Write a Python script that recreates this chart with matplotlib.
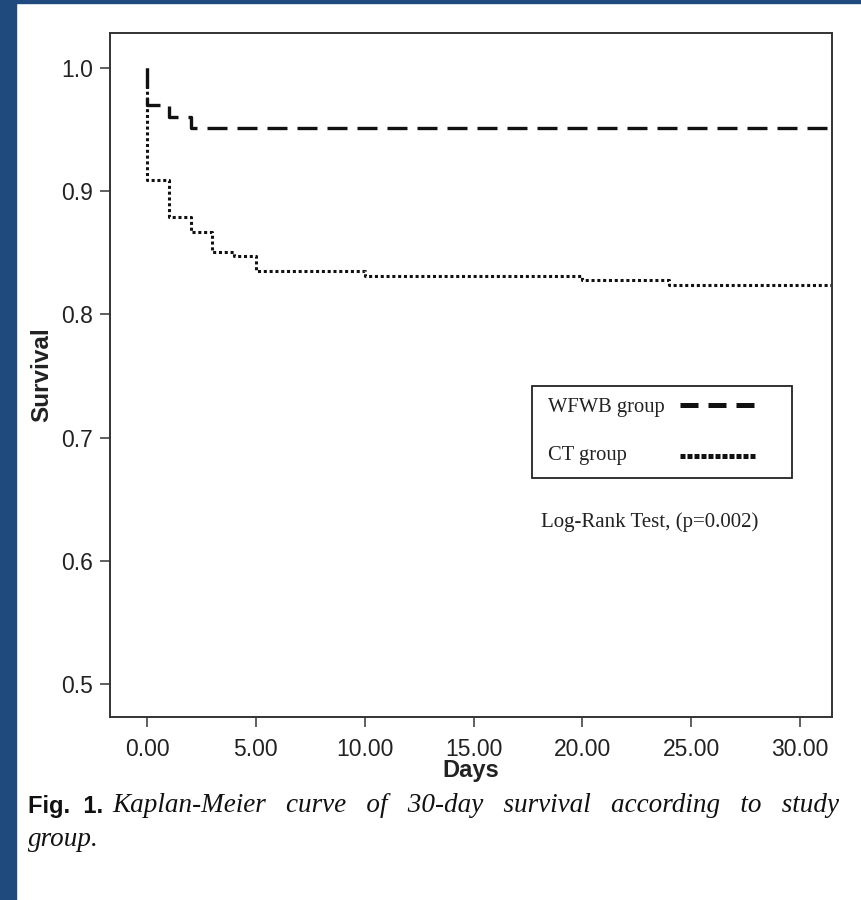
import matplotlib
matplotlib.use("Agg")
import matplotlib.pyplot as plt
from matplotlib.patches import Rectangle

# ---- data ----
wfwb_days = [0, 0, 1, 2, 32]
wfwb_surv = [1.0, 0.970, 0.960, 0.951, 0.951]
ct_days = [0, 0, 1, 2, 3, 4, 5, 10, 20, 24, 32]
ct_surv = [1.0, 0.909, 0.879, 0.867, 0.851, 0.847, 0.835, 0.831, 0.828, 0.824, 0.824]
x_ticks = [0, 5, 10, 15, 20, 25, 30]
x_ticklabels = ["0.00", "5.00", "10.00", "15.00", "20.00", "25.00", "30.00"]
y_ticks = [0.5, 0.6, 0.7, 0.8, 0.9, 1.0]
y_ticklabels = ["0.5", "0.6", "0.7", "0.8", "0.9", "1.0"]
legend_labels = ["WFWB group", "CT group"]

sans = ["Liberation Sans", "DejaVu Sans"]
serif = ["Liberation Serif", "DejaVu Serif"]
ink = "#222222"

fig = plt.figure(figsize=(8.62, 9.0), dpi=100)
fig.patch.set_facecolor("white")
# blue page border
blue = "#1f4a7d"
fig.patches.append(Rectangle((0, 0), 16 / 862, 1, transform=fig.transFigure, color=blue, zorder=0))
fig.patches.append(Rectangle((0, 1 - 3 / 900), 1, 3 / 900, transform=fig.transFigure, color=blue, zorder=0))

ax = fig.add_axes([110 / 862, 1 - 717 / 900, 722 / 862, 684 / 900])
ax.set_xlim(-1.70, 31.47)
ax.set_ylim(0.4732, 1.0284)

wfwb_style = dict(color="#111111", lw=2.4, linestyle=(0, (6, 3)), dash_capstyle="butt")
ct_style = dict(color="#111111", lw=2.2, linestyle=(0, (1.0, 0.9)), dash_capstyle="butt")
ax.step(wfwb_days, wfwb_surv, where="post", **wfwb_style)
ax.step(ct_days, ct_surv, where="post", **ct_style)

for s in ax.spines.values():
    s.set_linewidth(1.4)
    s.set_color("#333333")

ax.set_xticks(x_ticks)
ax.set_xticklabels(x_ticklabels, fontfamily=sans, fontsize=16.5, color=ink)
ax.set_yticks(y_ticks)
ax.set_yticklabels(y_ticklabels, fontfamily=sans, fontsize=16.5, color=ink)
ax.tick_params(axis="both", direction="out", length=7, width=1.2, color="#444444", pad=5)
ax.tick_params(axis="x", pad=8)

ax.set_xlabel("Days", fontfamily=sans, fontweight="bold", fontsize=17, labelpad=-1, color=ink)
ax.set_ylabel("Survival", fontfamily=sans, fontweight="bold", fontsize=17.5, labelpad=6, color=ink)

# legend box (drawn in axes fraction)
ax.add_patch(Rectangle((0.584, 0.349), 0.361, 0.135, transform=ax.transAxes,
                       fill=False, edgecolor=ink, lw=1.3, clip_on=False))
ax.text(0.607, 0.452, legend_labels[0], transform=ax.transAxes, ha="left", va="center",
        fontfamily=serif, fontsize=14.8, color=ink)
ax.text(0.607, 0.382, legend_labels[1], transform=ax.transAxes, ha="left", va="center",
        fontfamily=serif, fontsize=14.8, color=ink)
ax.plot([0.789, 0.895], [0.456, 0.456], transform=ax.transAxes, clip_on=False,
        color="#111111", lw=3.6, linestyle=(0, (3.6, 2.0)), dash_capstyle="butt")
ax.plot([0.789, 0.895], [0.381, 0.381], transform=ax.transAxes, clip_on=False,
        color="#111111", lw=3.6, linestyle=(0, (1.0, 0.4)), dash_capstyle="butt")

ax.text(0.748, 0.285, "Log-Rank Test, (p=0.002)", transform=ax.transAxes,
        ha="center", va="center", fontfamily=serif, fontsize=15, color=ink)

# caption
fig.text(28 / 862, 1 - 806 / 900, "Fig.  1.", fontfamily=sans, fontweight="bold",
         fontsize=17, va="center", ha="left", color="#111111")
fig.text(112 / 862, 1 - 806 / 900,
         "Kaplan-Meier   curve   of   30-day   survival   according   to   study",
         fontfamily=serif, style="italic", fontsize=19.5, va="center", ha="left", color="#111111")
fig.text(28 / 862, 1 - 840 / 900, "group.", fontfamily=serif, style="italic",
         fontsize=19.5, va="center", ha="left", color="#111111")

fig.savefig("out.png", dpi=100, facecolor="white")
